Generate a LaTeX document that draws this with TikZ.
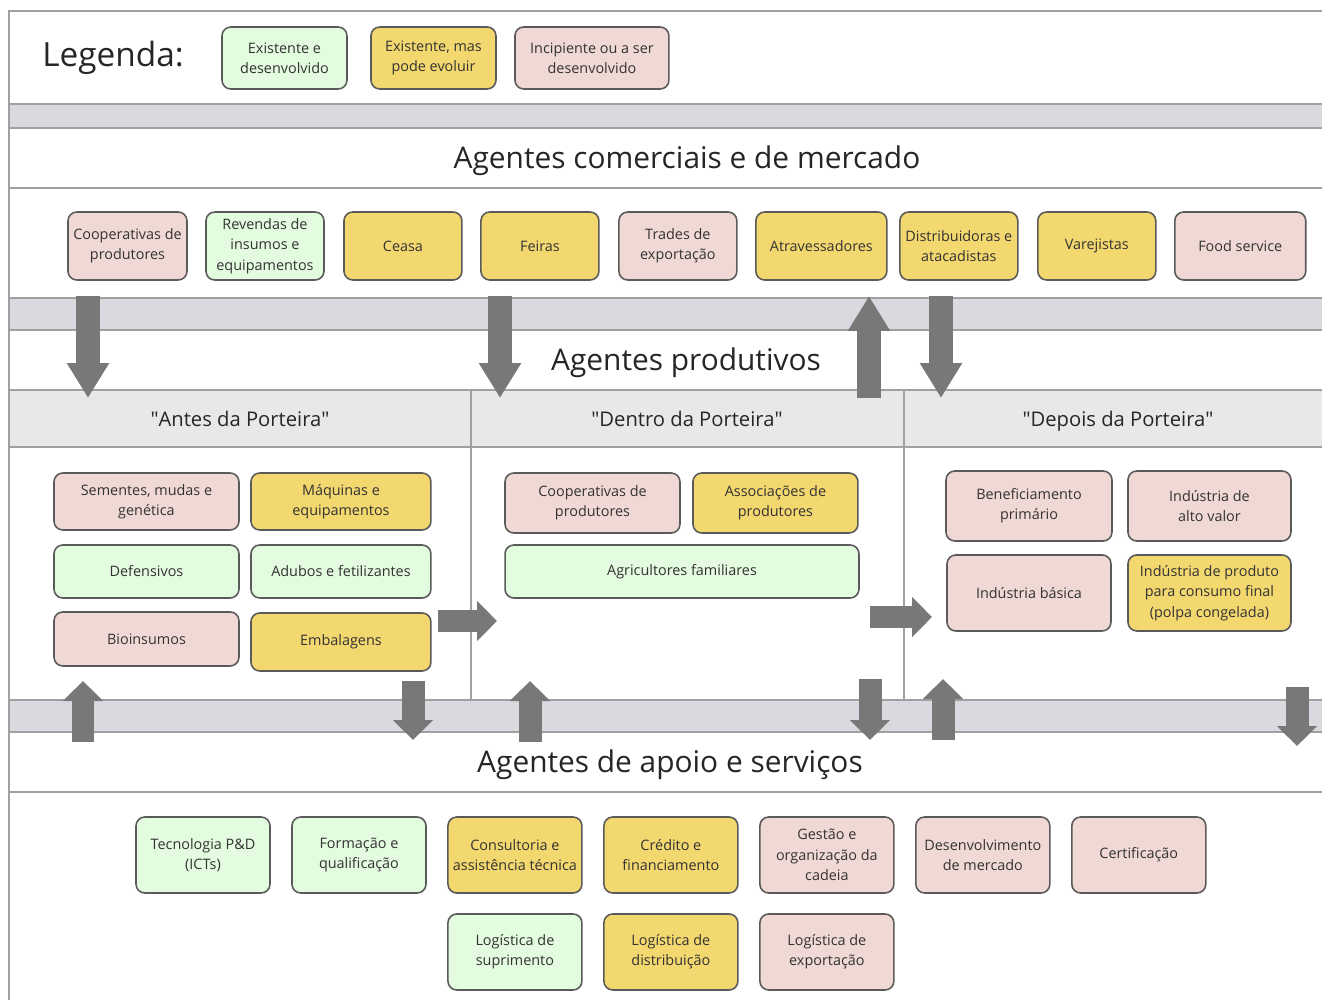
\documentclass[tikz,border=0pt]{standalone}
\usepackage{fontspec}
\setmainfont{Open Sans}
\usetikzlibrary{arrows.meta, positioning}

\definecolor{devgreen}{HTML}{E3FBDF}
\definecolor{evoyellow}{HTML}{F3D76F}
\definecolor{incpink}{HTML}{F0D8D4}
\definecolor{boxline}{HTML}{5A5A5A}
\definecolor{txtgray}{HTML}{333333}
\definecolor{bandgray}{HTML}{D9DADF}
\definecolor{headgray}{HTML}{E8E8E8}
\definecolor{frameline}{HTML}{A0A0A0}
\definecolor{arrowgray}{HTML}{787878}

\newcommand{\boxfont}{\fontsize{8.2}{11.6}\selectfont}
\newcommand{\titlefont}{\fontsize{17}{20}\selectfont}
\newcommand{\headfont}{\fontsize{11.5}{14}\selectfont}
\newcommand{\legfont}{\fontsize{19}{22}\selectfont}

\tikzset{
	agent/.style={rectangle, draw=boxline, line width=0.9pt, rounded corners=5pt, align=center, text=txtgray, font=\boxfont, inner sep=1pt, outer sep=0pt},
	dev/.style={agent, fill=devgreen},
	evo/.style={agent, fill=evoyellow},
	inc/.style={agent, fill=incpink},
	com/.style={minimum width=2.36cm, minimum height=1.36cm},
	sup/.style={minimum width=2.68cm, minimum height=1.52cm},
	title/.style={font=\titlefont, text=black!85},
	head/.style={font=\headfont, text=black!85, text height=1.5ex, text depth=0.3ex},
	frame/.style={draw=frameline, line width=0.8pt},
	flow/.style={draw=arrowgray, line width=0.48cm, -{Triangle[length=0.7cm, width=0.8cm]}},
	stub/.style={draw=arrowgray, line width=0.46cm, -{Triangle[length=0.4cm, width=0.78cm]}},
}

\begin{document}
\begin{tikzpicture}[x=0.02cm, y=-0.02cm]
	\useasboundingbox (0,0) rectangle (1322,1000);
	
	% bands and frame
	\fill[bandgray] (9,104) rectangle (1322,128);
	\fill[bandgray] (9,298) rectangle (1322,330);
	\fill[headgray] (9,390) rectangle (1322,447);
	\fill[bandgray] (9,700) rectangle (1322,732);
	\draw[frame] (9,1000) -- (9,11) -- (1322,11);
	\draw[frame] (9,104) -- (1322,104) (9,128) -- (1322,128) (9,188) -- (1322,188);
	\draw[frame] (9,298) -- (1322,298) (9,330) -- (1322,330);
	\draw[frame] (9,390) -- (1322,390) (9,447) -- (1322,447);
	\draw[frame] (471,390) -- (471,700) (904,390) -- (904,700);
	\draw[frame] (9,700) -- (1322,700) (9,732) -- (1322,732) (9,792) -- (1322,792);
	
	% legenda
	\node[font=\legfont, text=black!85] (legenda) at (113,58) {Legenda:};
	\node[dev, minimum width=2.5cm, minimum height=1.24cm] (leg1) at (284.5,58) {Existente e\\desenvolvido};
	\node[evo, right=0.48cm of leg1, minimum width=2.5cm, minimum height=1.24cm] (leg2) {Existente, mas\\pode evoluir};
	\node[inc, right=0.38cm of leg2, minimum width=3.08cm, minimum height=1.24cm] (leg3) {Incipiente ou a ser\\desenvolvido};
	
	% titulos
	\node[title] (comercial) at (687,161) {Agentes comerciais e de mercado};
	\node[title] (produtivo) at (686,363) {Agentes produtivos};
	\node[head] (antes) at (240,421) {\textquotedbl Antes da Porteira\textquotedbl};
	\node[head] (dentro) at (687,421) {\textquotedbl Dentro da Porteira\textquotedbl};
	\node[head] (depois) at (1118,421) {\textquotedbl Depois da Porteira\textquotedbl};
	\node[title] (apoio) at (670,765) {Agentes de apoio e serviços};
	
	% agentes comerciais
	\node[inc, com, minimum width=2.38cm] (coopc) at (127.5,246) {Cooperativas de\\produtores};
	\node[dev, com, right=0.38cm of coopc] (revendas) {Revendas de\\insumos e\\equipamentos};
	\node[evo, com, right=0.4cm of revendas] (ceasa) {Ceasa};
	\node[evo, com, right=0.38cm of ceasa] (feiras) {Feiras};
	\node[inc, com, right=0.4cm of feiras] (trades) {Trades de\\exportação};
	\node[evo, com, right=0.38cm of trades, minimum width=2.62cm] (atrav) {Atravessadores};
	\node[evo, com, right=0.26cm of atrav] (distrib) {Distribuidoras e\\atacadistas};
	\node[evo, com, right=0.4cm of distrib] (varej) {Varejistas};
	\node[inc, com, right=0.38cm of varej, minimum width=2.62cm] (food) {Food service};
	
	% antes da porteira
	\node[inc, minimum width=3.7cm, minimum height=1.14cm] (sementes) at (146.5,501.5) {Sementes, mudas e\\genética};
	\node[evo, right=0.24cm of sementes, minimum width=3.6cm, minimum height=1.14cm] (maquinas) {Máquinas e\\equipamentos};
	\node[dev, below=0.3cm of sementes, minimum width=3.7cm, minimum height=1.06cm] (defens) {Defensivos};
	\node[dev, below=0.3cm of maquinas, minimum width=3.6cm, minimum height=1.06cm] (adubos) {Adubos e fetilizantes};
	\node[inc, below=0.28cm of defens, minimum width=3.7cm, minimum height=1.08cm] (bioins) {Bioinsumos};
	\node[evo, below=0.3cm of adubos, minimum width=3.6cm, minimum height=1.16cm] (embal) {Embalagens};
	
	% dentro da porteira
	\node[inc, minimum width=3.5cm, minimum height=1.2cm] (coopd) at (592.5,503) {Cooperativas de\\produtores};
	\node[evo, right=0.26cm of coopd, minimum width=3.3cm, minimum height=1.2cm] (assoc) {Associações de\\produtores};
	\node[dev, minimum width=7.08cm, minimum height=1.06cm] (agric) at (682,571.5) {Agricultores familiares};
	
	% depois da porteira
	\node[inc, minimum width=3.32cm, minimum height=1.4cm] (benef) at (1029,506) {Beneficiamento\\primário};
	\node[inc, right=0.32cm of benef, minimum width=3.26cm, minimum height=1.4cm] (altoval) {Indústria de\\alto valor};
	\node[inc, below=0.28cm of benef, minimum width=3.28cm, minimum height=1.52cm] (basica) {Indústria básica};
	\node[evo, below=0.28cm of altoval, minimum width=3.26cm, minimum height=1.52cm] (polpa) {Indústria de produto\\para consumo final\\(polpa congelada)};
	
	% agentes de apoio
	\node[dev, sup] (tecno) at (203,855) {Tecnologia P\&D\\(ICTs)};
	\node[dev, sup, right=0.44cm of tecno] (formacao) {Formação e\\qualificação};
	\node[evo, sup, right=0.44cm of formacao] (consult) {Consultoria e\\assistência técnica};
	\node[evo, sup, right=0.44cm of consult] (credito) {Crédito e\\financiamento};
	\node[inc, sup, right=0.44cm of credito] (gestao) {Gestão e\\organização da\\cadeia};
	\node[inc, sup, right=0.44cm of gestao] (desenv) {Desenvolvimento\\de mercado};
	\node[inc, sup, right=0.44cm of desenv] (certif) {Certificação};
	\node[dev, sup, below=0.42cm of consult] (logsup) {Logística de\\suprimento};
	\node[evo, sup, below=0.42cm of credito] (logdist) {Logística de\\distribuição};
	\node[inc, sup, below=0.42cm of gestao] (logexp) {Logística de\\exportação};
	
	% pontas das setas
	\coordinate (c1a) at (88,296);   \coordinate (c1b) at (88,398);
	\coordinate (c2a) at (500,296);  \coordinate (c2b) at (500,398);
	\coordinate (c3a) at (869,398);  \coordinate (c3b) at (869,296);
	\coordinate (c4a) at (941,296);  \coordinate (c4b) at (941,398);
	\coordinate (p1a) at (438,621);  \coordinate (p1b) at (497,621);
	\coordinate (p2a) at (870,617);  \coordinate (p2b) at (932,617);
	\coordinate (s1a) at (83,742);   \coordinate (s1b) at (83,681);
	\coordinate (s2a) at (413,681);  \coordinate (s2b) at (413,740);
	\coordinate (s3a) at (530,742);  \coordinate (s3b) at (530,681);
	\coordinate (s4a) at (870,679);  \coordinate (s4b) at (870,740);
	\coordinate (s5a) at (943,740);  \coordinate (s5b) at (943,679);
	\coordinate (s6a) at (1297,687); \coordinate (s6b) at (1297,746);
	
	% setas
	\draw[flow] (c1a) -- (c1b);
	\draw[flow] (c2a) -- (c2b);
	\draw[flow] (c3a) -- (c3b);
	\draw[flow] (c4a) -- (c4b);
	\draw[stub, line width=0.44cm] (p1a) -- (p1b);
	\draw[stub, line width=0.44cm] (p2a) -- (p2b);
	\draw[stub] (s1a) -- (s1b);
	\draw[stub] (s2a) -- (s2b);
	\draw[stub] (s3a) -- (s3b);
	\draw[stub] (s4a) -- (s4b);
	\draw[stub] (s5a) -- (s5b);
	\draw[stub] (s6a) -- (s6b);
\end{tikzpicture}
\end{document}
